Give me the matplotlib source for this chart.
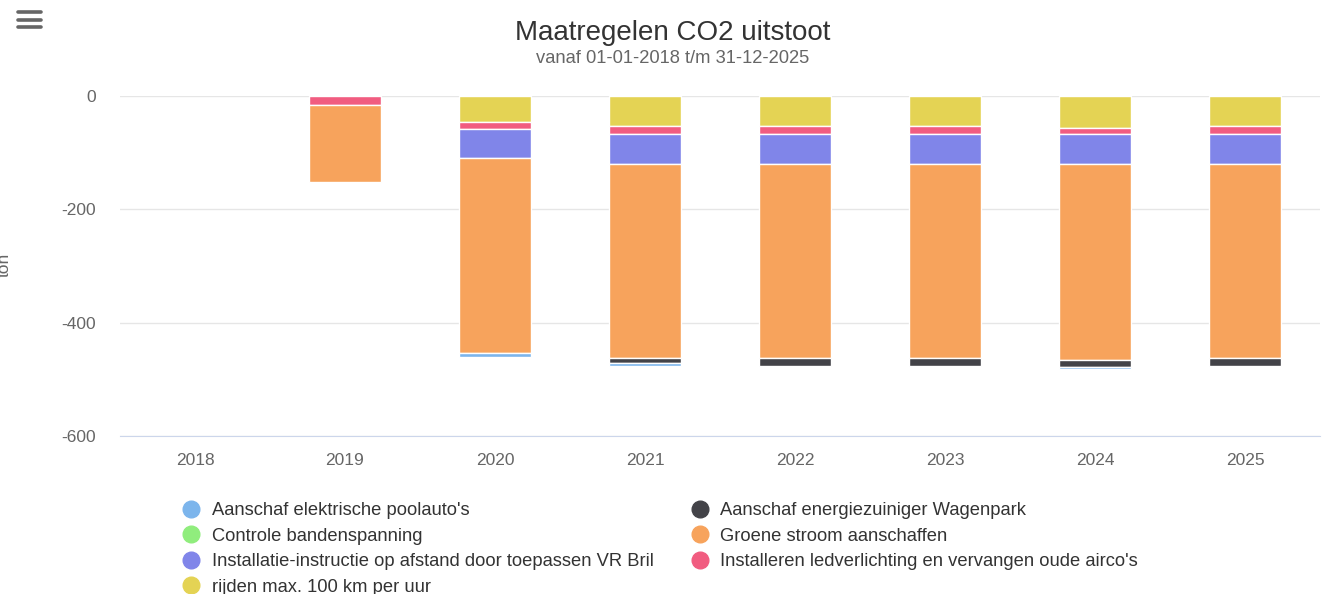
import matplotlib.pyplot as plt
import numpy as np
from matplotlib.lines import Line2D

plt.rcParams['font.family'] = ['Liberation Sans', 'DejaVu Sans']

# data
years = ['2018', '2019', '2020', '2021', '2022', '2023', '2024', '2025']
poolautos = [0, 0, -7, -5, 0, 0, -4, 0]
wagenpark = [0, 0, 0, -10, -15, -15, -12, -15]
bandenspanning = [0, 0, 0, 0, 0, 0, 0, 0]
groene_stroom = [0, -137, -344, -342, -342, -342, -346, -342]
vr_bril = [0, 0, -52, -53, -53, -53, -53, -53]
ledverlichting = [0, -15, -13, -14, -14, -14, -11, -14]
rijden_100 = [0, 0, -45, -53, -53, -53, -56, -53]

series = [
    ("Aanschaf elektrische poolauto's", poolautos, '#7cb5ec'),
    ("Aanschaf energiezuiniger Wagenpark", wagenpark, '#434348'),
    ("Controle bandenspanning", bandenspanning, '#90ed7d'),
    ("Groene stroom aanschaffen", groene_stroom, '#f7a35c'),
    ("Installatie-instructie op afstand door toepassen VR Bril", vr_bril, '#8085e9'),
    ("Installeren ledverlichting en vervangen oude airco's", ledverlichting, '#f15c80'),
    ("rijden max. 100 km per uur", rijden_100, '#e4d354'),
]

W, H = 1337, 594
fig = plt.figure(figsize=(W / 100, H / 100), dpi=100)
ax = fig.add_axes([120 / W, (H - 436) / H, 1200 / W, 340 / H])

x = np.arange(len(years))
bottom = np.zeros(len(years))
# laatste serie ligt het dichtst bij nul
for name, vals, col in reversed(series):
    v = np.array(vals, dtype=float)
    nz = v != 0
    if nz.any():
        ax.bar(x[nz], v[nz], 0.48, bottom=bottom[nz], color=col, edgecolor='white',
               linewidth=1, zorder=3)
    bottom = bottom + v

ax.set_xlim(-0.5, len(years) - 0.5)
ax.set_ylim(-600, 0)
ax.set_yticks([0, -200, -400, -600])
ax.set_yticklabels(['0', '-200', '-400', '-600'])
ax.set_xticks(x)
ax.set_xticklabels(years)
ax.tick_params(axis='both', length=0, labelsize=12.5, colors='#666666')
ax.tick_params(axis='y', pad=17.5)
ax.tick_params(axis='x', pad=12)
ax.grid(axis='y', color='#e6e6e6', linewidth=1, zorder=0)
ax.set_axisbelow(True)
for s in ['top', 'right', 'left']:
    ax.spines[s].set_visible(False)
ax.spines['bottom'].set_color('#ccd6eb')
ax.spines['bottom'].set_zorder(4)

# titels
fig.text(673 / W, 1 - 40 / H, 'Maatregelen CO2 uitstoot', ha='center', va='baseline',
         fontsize=20, color='#333333')
fig.text(673 / W, 1 - 63 / H, 'vanaf 01-01-2018 t/m 31-12-2025', ha='center', va='baseline',
         fontsize=13.2, color='#666666')

# y-as titel, half buiten beeld
fig.text(4 / W, 1 - 265 / H, 'ton', rotation=90, ha='center', va='center',
         fontsize=12.5, color='#666666')

# menu knop
for yy in [12, 19.5, 27]:
    fig.add_artist(Line2D([18 / W, 41 / W], [1 - yy / H, 1 - yy / H], color='#666666',
                          linewidth=2.6, solid_capstyle='round'))

# legenda, rij voor rij
handles = [Line2D([], [], marker='o', linestyle='none', markersize=12,
                  markerfacecolor=c, markeredgecolor=c) for _, _, c in series]
labels = [n for n, _, _ in series]
order = [0, 2, 4, 6, 1, 3, 5]
leg = fig.legend([handles[i] for i in order], [labels[i] for i in order],
                 loc='upper left', bbox_to_anchor=(182 / W, 1 - 502 / H), ncol=2,
                 frameon=False, fontsize=13.2, handlelength=1.0, handletextpad=0.63,
                 columnspacing=2.0, labelspacing=0.47, borderpad=0, borderaxespad=0)
for t in leg.get_texts():
    t.set_color('#333333')

fig.savefig('out.png', dpi=100, facecolor='white')
